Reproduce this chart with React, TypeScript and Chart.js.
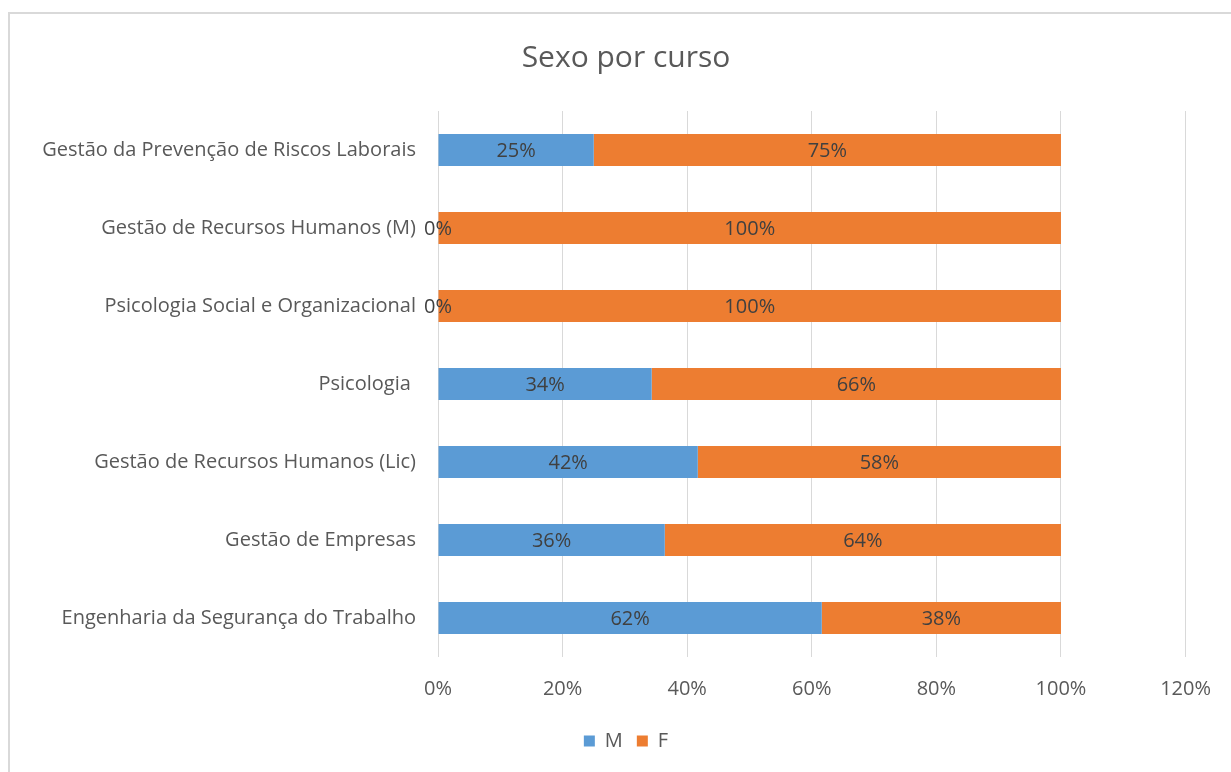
import React, { useEffect, useRef } from "react";
import { Chart, registerables } from "chart.js";

Chart.register(...registerables);

const categories = [
  "Gestão da Prevenção de Riscos Laborais",
  "Gestão de Recursos Humanos (M)",
  "Psicologia Social e Organizacional",
  "Psicologia ",
  "Gestão de Recursos Humanos (Lic)",
  "Gestão de Empresas",
  "Engenharia da Segurança do Trabalho",
];
const maleValues = [25, 0, 0, 34.3, 41.7, 36.4, 61.6];
const femaleValues = [75, 100, 100, 65.7, 58.3, 63.6, 38.4];
const xTicks = [0, 20, 40, 60, 80, 100, 120];

const FONT = "'Open Sans', sans-serif";
const TEXT = "#595959";

const dataLabels = {
  id: "dataLabels",
  afterDatasetsDraw(chart: any) {
    const ctx = chart.ctx;
    ctx.save();
    ctx.font = `20px ${FONT}`;
    ctx.fillStyle = "#404040";
    ctx.textAlign = "center";
    ctx.textBaseline = "middle";
    chart.data.datasets.forEach((ds: any, di: number) => {
      const meta = chart.getDatasetMeta(di);
      meta.data.forEach((bar: any, i: number) => {
        const v = ds.data[i];
        const cx = (bar.x + bar.base) / 2;
        ctx.fillText(Math.round(v) + "%", cx, bar.y + 1);
      });
    });
    ctx.restore();
  },
};

export default function App() {
  const ref = useRef<HTMLCanvasElement | null>(null);
  useEffect(() => {
    if (!ref.current) return;
    const chart = new Chart(ref.current, {
      type: "bar",
      data: {
        labels: categories,
        datasets: [
          { label: "M", data: maleValues, backgroundColor: "#5B9BD5", barPercentage: 0.41, categoryPercentage: 1 },
          { label: "F", data: femaleValues, backgroundColor: "#ED7D31", barPercentage: 0.41, categoryPercentage: 1 },
        ],
      },
      options: {
        indexAxis: "y",
        responsive: false,
        animation: false,
        layout: { padding: { left: 21, right: 0, top: 0, bottom: 11 } },
        scales: {
          x: {
            stacked: true,
            min: 0,
            max: 120,
            afterBuildTicks: (scale: any) => {
              scale.ticks = xTicks.map((v) => ({ value: v }));
            },
            afterFit: (scale: any) => {
              scale.height = 60;
            },
            ticks: {
              callback: (v: any) => v + "%",
              color: TEXT,
              font: { family: FONT, size: 20 },
              padding: 20,
            },
            grid: { color: "#d9d9d9", drawTicks: false, lineWidth: 1 },
            border: { display: false },
          },
          y: {
            stacked: true,
            afterFit: (scale: any) => {
              scale.width = 417;
            },
            ticks: {
              color: TEXT,
              font: { family: FONT, size: 20 },
              padding: 22,
              autoSkip: false,
            },
            grid: { display: false, drawTicks: false },
            border: { display: false },
          },
          yRight: {
            axis: "y",
            type: "category",
            position: "right",
            afterFit: (scale: any) => {
              scale.width = 45;
            },
            ticks: { display: false },
            grid: { display: false, drawTicks: false },
            border: { display: false },
          },
        },
        plugins: {
          title: {
            display: true,
            text: "Sexo por curso",
            color: TEXT,
            font: { family: FONT, size: 30, weight: "normal" },
            padding: { top: 40, bottom: 35 },
          },
          legend: {
            position: "bottom",
            labels: {
              color: TEXT,
              font: { family: FONT, size: 20 },
              boxWidth: 11,
              boxHeight: 11,
              padding: 14,
            },
          },
          tooltip: { enabled: false },
        },
      },
      plugins: [dataLabels],
    });
    return () => chart.destroy();
  }, []);
  return (
    <div style={{ position: "fixed", left: 0, top: 0, width: 1231, height: 772, overflow: "hidden", background: "#fff" }}>
      <div
        style={{
          position: "absolute",
          left: 8,
          top: 12,
          width: 1240,
          height: 800,
          borderLeft: "2px solid #d9d9d9",
          borderTop: "2px solid #d9d9d9",
        }}
      />
      <canvas ref={ref} width={1231} height={772} style={{ position: "absolute", left: 0, top: 0 }} />
    </div>
  );
}
